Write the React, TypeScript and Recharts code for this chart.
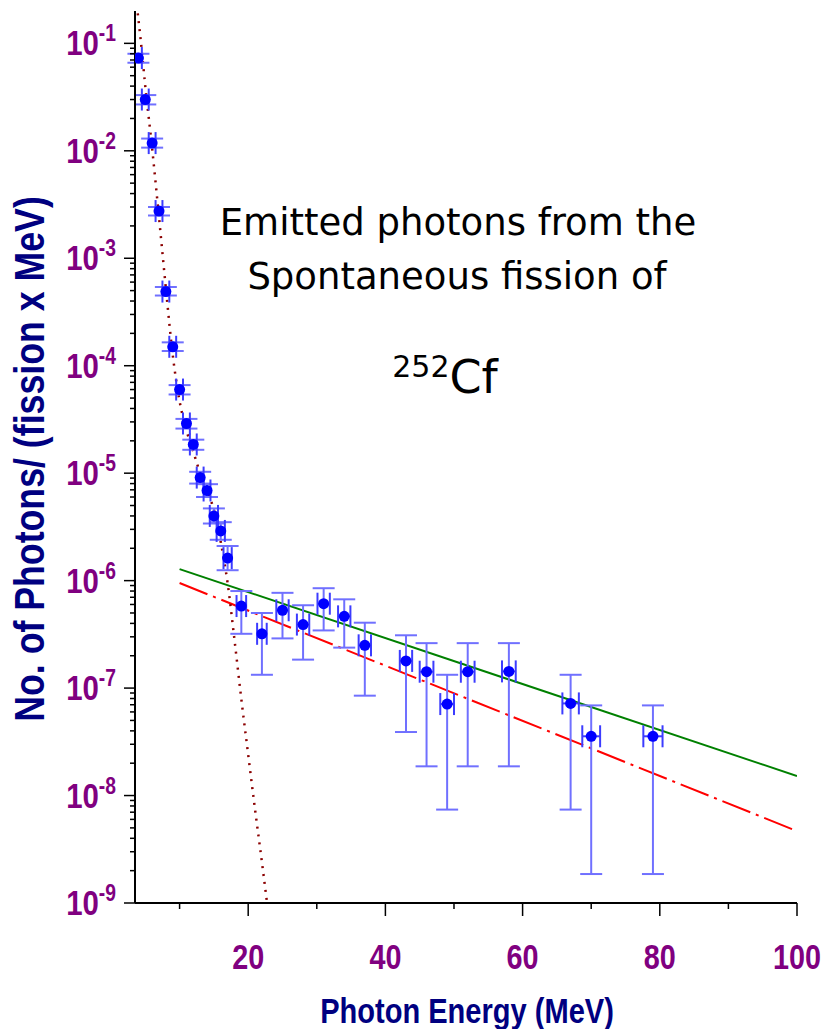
import React from 'react'
import { ComposedChart, XAxis, YAxis, Line, Scatter, ErrorBar } from 'recharts'

// measured photons per (fission x MeV)
const energy = [4, 5, 6, 7, 8, 9, 10, 11, 12, 13, 14, 15, 16, 17, 19, 22, 25, 28, 31, 34, 37, 43, 46, 49, 52, 58, 67, 70, 79]
const photons = [0.073, 0.030, 0.0118, 0.00275, 4.9e-4, 1.5e-4, 6.0e-5, 2.9e-5, 1.85e-5, 9.1e-6, 6.9e-6, 4.0e-6, 2.9e-6, 1.62e-6,
  5.8e-7, 3.2e-7, 5.3e-7, 3.9e-7, 6.1e-7, 4.65e-7, 2.5e-7, 1.79e-7, 1.42e-7, 7.1e-8, 1.42e-7, 1.43e-7, 7.2e-8, 3.56e-8, 3.56e-8]
const photonsLow = [0.066, 0.027, 0.0107, 0.0025, 4.5e-4, 1.37e-4, 5.4e-5, 2.6e-5, 1.65e-5, 8.0e-6, 6.0e-6, 3.4e-6, 2.4e-6, 1.25e-6,
  3.2e-7, 1.33e-7, 2.9e-7, 1.84e-7, 3.44e-7, 2.38e-7, 8.5e-8, 3.9e-8, 1.87e-8, 7.4e-9, 1.87e-8, 1.87e-8, 7.4e-9, 1.86e-9, 1.86e-9]
const photonsHigh = [0.080, 0.033, 0.0130, 0.0030, 5.4e-4, 1.65e-4, 6.6e-5, 3.2e-5, 2.05e-5, 1.03e-5, 7.9e-6, 4.7e-6, 3.5e-6, 2.1e-6,
  8.0e-7, 5.0e-7, 7.7e-7, 5.9e-7, 8.5e-7, 6.7e-7, 4.06e-7, 3.1e-7, 2.62e-7, 1.33e-7, 2.62e-7, 2.62e-7, 1.33e-7, 6.9e-8, 6.9e-8]
const energyErr = [0.5, 0.5, 0.5, 0.5, 0.5, 0.5, 0.5, 0.5, 0.5, 0.5, 0.5, 0.6, 0.6, 0.6, 0.7, 0.7, 0.9, 0.9, 0.9, 0.9, 0.9, 0.9, 1.0, 1.0, 1.0, 1.0, 1.2, 1.3, 1.4]

// statistical (dotted) curve
const fitE = [3.9, 4.3, 5, 6, 7, 8, 9, 10, 11, 12, 13, 14, 15, 16, 17, 18, 19, 20, 21, 22, 22.75]
const fitY = [0.19, 0.112, 0.0398, 0.0105, 2.4e-3, 5.25e-4, 1.26e-4, 4.68e-5, 2.51e-5, 1.58e-5, 1.0e-5, 6.76e-6, 4.57e-6,
  2.29e-6, 9.5e-7, 2.82e-7, 7.9e-8, 2.4e-8, 7.4e-9, 2.4e-9, 1.0e-9]

// exponential fits (green solid, red dash-dot)
const greenE = [10, 100]
const greenY = [1.28e-6, 1.52e-8]
const redE = [10, 100]
const redY = [9.5e-7, 4.67e-9]

const xMajor = [20, 40, 60, 80, 100]
const xMinor = [10, 30, 50, 70, 90]
const decadeExp = [-9, -8, -7, -6, -5, -4, -3, -2, -1]
const minorMult = [2, 3, 4, 5, 6, 7, 8, 9]

const points = energy.map((e, i) => ({
  x: e,
  y: photons[i],
  ey: [photons[i] - photonsLow[i], photonsHigh[i] - photons[i]],
  ex: energyErr[i],
}))
const fitData = fitE.map((e, i) => ({ x: e, y: fitY[i] }))
const greenData = greenE.map((e, i) => ({ x: e, y: greenY[i] }))
const redData = redE.map((e, i) => ({ x: e, y: redY[i] }))

const xTicks = [...xMinor, ...xMajor].sort((a, b) => a - b)
const yTicks: number[] = []
decadeExp.forEach(p => {
  yTicks.push(Math.pow(10, p))
  if (p < -1) minorMult.forEach(m => yTicks.push(m * Math.pow(10, p)))
})

const PURPLE = '#800080'
const NAVY = '#000080'
const BOLD = "'Liberation Sans', Arial, sans-serif"

const isDecade = (v: number) => {
  const l = Math.log10(v)
  return Math.abs(l - Math.round(l)) < 1e-6
}

function LeftTick({ x, y, payload }: any) {
  const major = isDecade(payload.value)
  return (
    <g>
      <line x1={x} x2={x - (major ? 11 : 5)} y1={y} y2={y} stroke="#000" strokeWidth={1.5} />
      {major && (
        <text transform={`translate(${x - 19},${y + 12}) scale(0.84,1)`} textAnchor="end" fill={PURPLE}
          fontFamily={BOLD} fontWeight="bold" fontSize={35}>
          10<tspan dy={-14} fontSize={23}>{Math.round(Math.log10(payload.value))}</tspan>
        </text>
      )}
    </g>
  )
}

function RightTick({ x, y, payload }: any) {
  const major = isDecade(payload.value)
  return <line x1={x} x2={x - (major ? 11 : 5)} y1={y} y2={y} stroke="#000" strokeWidth={1.5} />
}

function BottomTick({ x, y, payload }: any) {
  const major = xMajor.includes(payload.value)
  return (
    <g>
      <line x1={x} x2={x} y1={y} y2={y + (major ? 13 : 6)} stroke="#000" strokeWidth={1.5} />
      {major && (
        <text transform={`translate(${x},${y + 66}) scale(0.8,1)`} textAnchor="middle" fill={PURPLE}
          fontFamily={BOLD} fontWeight="bold" fontSize={36}>
          {payload.value}
        </text>
      )}
    </g>
  )
}

function TopTick({ x, y, payload }: any) {
  const major = xMajor.includes(payload.value)
  return <line x1={x} x2={x} y1={y} y2={y + (major ? 13 : 6)} stroke="#000" strokeWidth={1.5} />
}

const Dot = (p: any) => <circle cx={p.cx} cy={p.cy} r={5.5} fill="#0000ff" />

const overlay: React.CSSProperties = { position: 'absolute', whiteSpace: 'nowrap', lineHeight: 1, transform: 'translate(-50%, -50%)' }
const noteFont = "'DejaVu Sans', Tahoma, sans-serif"

export default function App() {
  return (
    <div style={{ position: 'absolute', left: 0, top: 0, width: 825, height: 1029, background: '#fff' }}>
      <ComposedChart width={825} height={1029} margin={{ top: 11, right: 28, bottom: 86, left: 0 }}>
        <XAxis xAxisId={0} dataKey="x" type="number" domain={[3.5, 100]} ticks={xTicks} interval={0}
          height={40} tickSize={0} tickMargin={0} tickLine={false} allowDataOverflow
          axisLine={{ stroke: '#000', strokeWidth: 2 }} tick={<BottomTick />} />
        <XAxis xAxisId="top" orientation="top" dataKey="x" type="number" domain={[3.5, 100]} ticks={xTicks} interval={0}
          height={0} tickSize={0} tickMargin={0} tickLine={false} allowDataOverflow
          axisLine={{ stroke: '#000', strokeWidth: 2 }} tick={<TopTick />} />
        <YAxis yAxisId={0} dataKey="y" type="number" scale="log" domain={[1e-9, 0.2]} ticks={yTicks} interval={0}
          width={135} tickSize={0} tickMargin={0} tickLine={false} allowDataOverflow
          axisLine={{ stroke: '#000', strokeWidth: 2 }} tick={<LeftTick />} />
        <YAxis yAxisId="r" orientation="right" dataKey="y" type="number" scale="log" domain={[1e-9, 0.2]} ticks={yTicks} interval={0}
          width={0} tickSize={0} tickMargin={0} tickLine={false} allowDataOverflow
          axisLine={{ stroke: '#000', strokeWidth: 2 }} tick={<RightTick />} />

        <Line data={greenData} dataKey="y" type="linear" stroke="#008000" strokeWidth={2} dot={false} isAnimationActive={false} />
        <Line data={redData} dataKey="y" type="linear" stroke="#ff0000" strokeWidth={2} strokeDasharray="30 6 3 6" dot={false} isAnimationActive={false} />
        <Line data={fitData} dataKey="y" type="monotone" stroke="#8b0000" strokeWidth={2.5} strokeDasharray="2 6" dot={false} isAnimationActive={false} />

        <Scatter data={points} dataKey="y" shape={<Dot />} isAnimationActive={false}>
          <ErrorBar dataKey="ey" direction="y" width={11} stroke="#7070ff" strokeWidth={2} isAnimationActive={false} />
          <ErrorBar dataKey="ex" direction="x" width={11} stroke="#3c3cff" strokeWidth={2} isAnimationActive={false} />
        </Scatter>
      </ComposedChart>

      <div style={{ ...overlay, left: 30, top: 459, transform: 'translate(-50%, -50%) rotate(-90deg) scaleX(0.85)', color: NAVY, fontFamily: BOLD, fontWeight: 'bold', fontSize: 42 }}>
        No. of Photons/ (fission x MeV)
      </div>
      <div style={{ ...overlay, left: 467, top: 1010, transform: 'translate(-50%, -50%) scaleX(0.83)', color: NAVY, fontFamily: BOLD, fontWeight: 'bold', fontSize: 35 }}>
        Photon Energy (MeV)
      </div>

      <div style={{ ...overlay, left: 458, top: 222, fontFamily: noteFont, fontSize: 37 }}>Emitted photons from the</div>
      <div style={{ ...overlay, left: 457, top: 276, fontFamily: noteFont, fontSize: 37 }}>Spontaneous fission of</div>
      <div style={{ ...overlay, left: 445, top: 376, fontFamily: noteFont, fontSize: 46 }}>
        <span style={{ fontSize: 30, verticalAlign: 'super' }}>252</span>Cf
      </div>
    </div>
  )
}
